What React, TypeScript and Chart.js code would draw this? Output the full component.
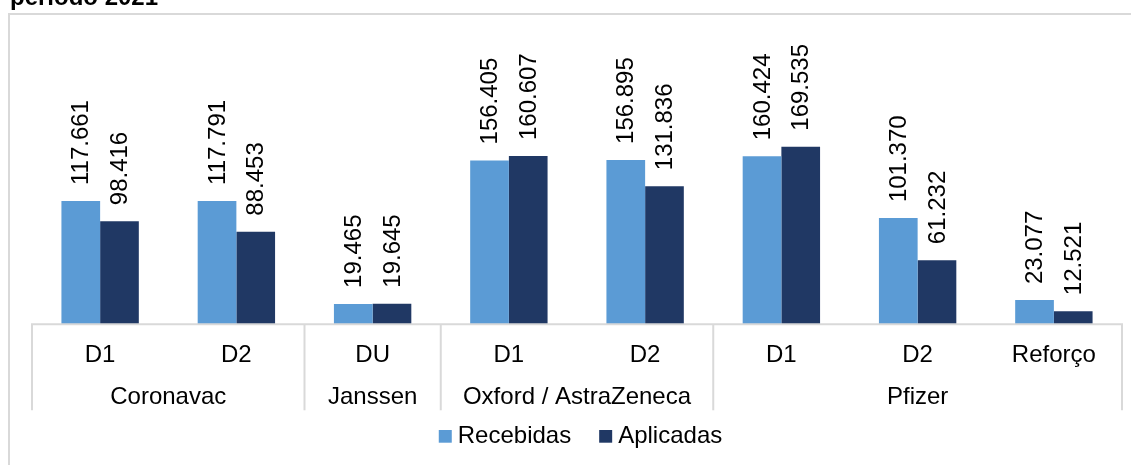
import React, { useEffect, useRef } from "react";
import { Chart, registerables } from "chart.js";

Chart.register(...registerables);

const titleText = "período 2021";
const vaccines = ["Coronavac", "Janssen", "Oxford / AstraZeneca", "Pfizer"];
const groupSizes = [2, 1, 2, 3];
const doses = ["D1", "D2", "DU", "D1", "D2", "D1", "D2", "Reforço"];
const seriesNames = ["Recebidas", "Aplicadas"];
const recebidas = [117661, 117791, 19465, 156405, 156895, 160424, 101370, 23077];
const aplicadas = [98416, 88453, 19645, 160607, 131836, 169535, 61232, 12521];
const seriesColors = ["#5B9BD5", "#203864"];

const FONT = '"Liberation Sans", Arial, sans-serif';
const GRID = "#D9D9D9";

function fmt(v: number): string {
  return String(v).replace(/\B(?=(\d{3})+(?!\d))/g, ".");
}

const decorPlugin = {
  id: "decor",
  beforeDraw(chart: any) {
    const ctx = chart.ctx as CanvasRenderingContext2D;
    ctx.save();
    ctx.fillStyle = "#ffffff";
    ctx.fillRect(0, 0, chart.width, chart.height);
    // outer box
    ctx.fillStyle = GRID;
    ctx.fillRect(8, 13, 2, chart.height);
    ctx.fillRect(8, 13, chart.width, 2);
    // title (cut off at top)
    ctx.fillStyle = "#000000";
    ctx.font = `bold 24px ${FONT}`;
    ctx.textAlign = "left";
    ctx.textBaseline = "alphabetic";
    ctx.fillText(titleText, 10, 5);
    ctx.restore();
  },
  afterDatasetsDraw(chart: any) {
    const ctx = chart.ctx as CanvasRenderingContext2D;
    const area = chart.chartArea;
    const xs = chart.scales.x;
    ctx.save();
    // axis line
    ctx.strokeStyle = GRID;
    ctx.lineWidth = 2;
    ctx.beginPath();
    ctx.moveTo(area.left - 1, area.bottom);
    ctx.lineTo(area.right + 1, area.bottom);
    ctx.stroke();
    // group separators
    const n = doses.length;
    const edge = (i: number) => {
      if (i <= 0) return area.left;
      if (i >= n) return area.right;
      return (xs.getPixelForValue(i - 1) + xs.getPixelForValue(i)) / 2;
    };
    const sepBottom = area.bottom + 86;
    let start = 0;
    const bounds: number[] = [0];
    groupSizes.forEach((s) => {
      start += s;
      bounds.push(start);
    });
    bounds.forEach((b) => {
      const x = edge(b);
      ctx.beginPath();
      ctx.moveTo(x, area.bottom);
      ctx.lineTo(x, sepBottom);
      ctx.stroke();
    });
    // dose labels
    ctx.fillStyle = "#000000";
    ctx.font = `24px ${FONT}`;
    ctx.textAlign = "center";
    ctx.textBaseline = "alphabetic";
    doses.forEach((d, i) => {
      ctx.fillText(d, xs.getPixelForValue(i), area.bottom + 38);
    });
    // group labels
    for (let g = 0; g < vaccines.length; g++) {
      const x0 = edge(bounds[g]);
      const x1 = edge(bounds[g + 1]);
      ctx.fillText(vaccines[g], (x0 + x1) / 2, area.bottom + 80);
    }
    // data labels
    chart.data.datasets.forEach((ds: any, di: number) => {
      const meta = chart.getDatasetMeta(di);
      meta.data.forEach((el: any, i: number) => {
        ctx.save();
        ctx.translate(el.x + 1, el.y - 16);
        ctx.rotate(-Math.PI / 2);
        ctx.textAlign = "left";
        ctx.textBaseline = "middle";
        ctx.fillText(fmt(ds.data[i]), 0, 0);
        ctx.restore();
      });
    });
    // legend
    ctx.font = `24px ${FONT}`;
    const sq = 13;
    const gapSq = 6;
    const gapItem = 28;
    const widths = seriesNames.map((s) => ctx.measureText(s).width);
    const total = widths.reduce((a, w) => a + sq + gapSq + w, 0) + gapItem * (seriesNames.length - 1);
    let lx = 580.5 - total / 2;
    const base = 442.7;
    ctx.textAlign = "left";
    ctx.textBaseline = "alphabetic";
    seriesNames.forEach((s, i) => {
      ctx.fillStyle = seriesColors[i];
      ctx.fillRect(lx, base - 12.7, sq, 12.7);
      ctx.fillStyle = "#000000";
      ctx.fillText(s, lx + sq + gapSq, base);
      lx += sq + gapSq + widths[i] + gapItem;
    });
    ctx.restore();
  },
};

export default function App() {
  const ref = useRef<HTMLCanvasElement | null>(null);
  useEffect(() => {
    if (!ref.current) return;
    const chart = new Chart(ref.current, {
      type: "bar",
      data: {
        labels: doses,
        datasets: [
          {
            label: seriesNames[0],
            data: recebidas,
            backgroundColor: seriesColors[0],
            borderWidth: 0,
            barPercentage: 1,
            categoryPercentage: 0.568,
          },
          {
            label: seriesNames[1],
            data: aplicadas,
            backgroundColor: seriesColors[1],
            borderWidth: 0,
            barPercentage: 1,
            categoryPercentage: 0.568,
          },
        ],
      },
      options: {
        responsive: false,
        animation: false,
        layout: { padding: { left: 32, right: 9, top: 62.4, bottom: 140.7 } },
        scales: {
          x: { display: false },
          y: { display: false, min: 0, max: 250000 },
        },
        plugins: {
          legend: { display: false },
          tooltip: { enabled: false },
        },
      },
      plugins: [decorPlugin],
    });
    return () => chart.destroy();
  }, []);
  return (
    <div style={{ position: "fixed", left: 0, top: 0, width: 1131, height: 465, background: "#fff", overflow: "hidden" }}>
      <canvas ref={ref} width={1131} height={465} style={{ display: "block", width: 1131, height: 465 }} />
    </div>
  );
}
